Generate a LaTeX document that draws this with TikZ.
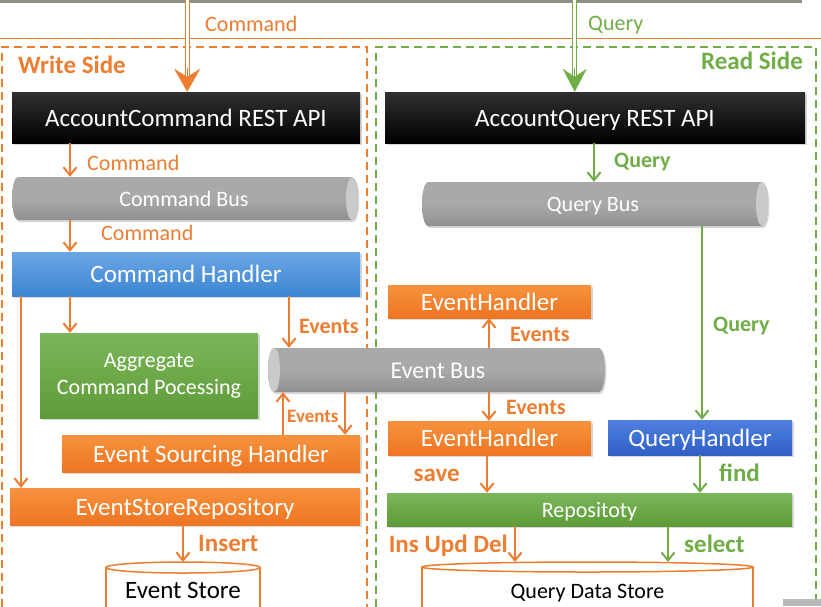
\documentclass[tikz,border=0pt]{standalone}
\usepackage{fontspec}
\setmainfont{Carlito}
\usetikzlibrary{arrows.meta,shapes.geometric,shadows}
\definecolor{ocol}{HTML}{ED7D31}
\definecolor{gcol}{HTML}{70AD47}
\definecolor{blacktop}{HTML}{303030}
\definecolor{bluetop}{HTML}{6AA6E6}
\definecolor{bluebot}{HTML}{3D85D0}
\definecolor{qbluetop}{HTML}{4E80E0}
\definecolor{qbluebot}{HTML}{2F5FC5}
\definecolor{greentop}{HTML}{7CB65A}
\definecolor{greenbot}{HTML}{5E9B38}
\definecolor{orangetop}{HTML}{F7923E}
\definecolor{orangebot}{HTML}{EE7522}
\definecolor{bustop}{HTML}{A9A9A9}
\definecolor{busbot}{HTML}{909090}
\definecolor{busend}{HTML}{CACACA}
\definecolor{topline}{HTML}{8A9088}
\tikzset{
  shad/.style={drop shadow={shadow xshift=1.5pt, shadow yshift=-2pt, opacity=0.3}},
  boxbase/.style={rectangle, inner sep=0pt, text=white, font=\fontsize{25}{30}\selectfont, shad},
  line25/.style={text height=20pt, text depth=3pt},
  line24/.style={text height=19.2pt, text depth=2.9pt},
  line22/.style={text height=17.6pt, text depth=2.6pt},
  box/.style={boxbase, line25},
  blackbox/.style={box, top color=blacktop, bottom color=black},
  bluebox/.style={box, top color=bluetop, bottom color=bluebot},
  qbluebox/.style={box, top color=qbluetop, bottom color=qbluebot},
  greenbox/.style={box, top color=greentop, bottom color=greenbot},
  orangebox/.style={box, top color=orangetop, bottom color=orangebot},
  busnode/.style={rectangle, inner sep=0pt, text=white, font=\fontsize{22}{26}\selectfont, line22},
  bussurface/.style={top color=bustop, bottom color=busbot, middle color=bustop, shad},
  olbl/.style={text=ocol, inner sep=0pt, anchor=base west, font=\fontsize{22}{26}\selectfont},
  glbl/.style={text=gcol, inner sep=0pt, anchor=base west, font=\fontsize{22}{26}\selectfont},
  olblb/.style={text=ocol, inner sep=0pt, anchor=base west, font=\bfseries\fontsize{25}{30}\selectfont},
  glblb/.style={text=gcol, inner sep=0pt, anchor=base west, font=\bfseries\fontsize{25}{30}\selectfont},
  oarr/.style={draw=ocol, line width=2pt, -{Straight Barb[length=8pt,width=13pt]}},
  garr/.style={draw=gcol, line width=2pt, -{Straight Barb[length=8pt,width=13pt]}},
  storetxt/.style={inner sep=0pt, text=black, anchor=base},
  storeline/.style={draw=ocol, line width=1.5pt, fill=white},
}
% horizontal bus body: x1 y1 x2 y2 (y grows downward)
\newcommand{\mybusbody}[4]{%
  \path[bussurface] ({#1+6},#2) -- ({#3-6},#2)
    arc[start angle=-90, end angle=90, x radius=6, y radius={(#4-#2)/2}]
    -- ({#1+6},#4)
    arc[start angle=90, end angle=270, x radius=6, y radius={(#4-#2)/2}] -- cycle;}
% cap at x-centre c, rows y1 y2
\newcommand{\mybuscap}[3]{%
  \fill[busend] (#1,{(#2+#3)/2}) ellipse [x radius=6, y radius={(#3-#2)/2}];}
\begin{document}
\begin{tikzpicture}[x=1pt,y=-1pt]
\useasboundingbox (0,0) rectangle (821,606);
\fill[white] (0,0) rectangle (821,606);

% top strip
\draw[topline, line width=3pt] (0,1.5) -- (802,1.5);
\draw[ocol, line width=1pt] (0,38) -- (821,38);

% side frames
\draw[ocol, line width=2.6pt, dash pattern=on 8pt off 5pt] (2,620) -- (2,47) -- (367,47) -- (367,620);
\draw[gcol, line width=2.3pt, dash pattern=on 8pt off 5pt] (376,620) -- (376,47) -- (816,47) -- (816,620);

% column coordinates
\coordinate (cmdsrc) at (187.2,0);
\coordinate (qrysrc) at (574.7,0);
\coordinate (c21) at (21,0);
\coordinate (c70) at (70,0);
\coordinate (c183) at (183,0);
\coordinate (c283) at (283,0);
\coordinate (c289) at (289,0);
\coordinate (c345) at (345,0);
\coordinate (c487) at (487,0);
\coordinate (c489) at (489,0);
\coordinate (c515) at (515,0);
\coordinate (c594) at (594,0);
\coordinate (c668) at (668,0);
\coordinate (c700) at (700,0);
\coordinate (c702) at (702,0);
\coordinate (estop) at (183,562);
\coordinate (qdstop) at (587,562);

% bus surfaces
\mybusbody{12}{177}{358}{220}
\mybuscap{352}{177}{220}
\mybusbody{422}{182}{768}{226}
\mybuscap{762}{182}{226}
\mybusbody{268}{348}{605}{392}
\mybuscap{274}{348}{392}

% write side nodes
\node[blackbox, minimum width=348pt, minimum height=51pt] (acr) at (186,117.5) {AccountCommand REST API};
\node[busnode, minimum width=346pt, minimum height=43pt] (cb) at (184,198.5) {Command Bus};
\node[bluebox, minimum width=348pt, minimum height=44pt] (ch) at (186,274) {Command Handler};
\node[boxbase, top color=greentop, bottom color=greenbot, minimum width=218pt, minimum height=85pt, align=center, font=\fontsize{22}{27}\selectfont] (agg) at (149,375.5) {Aggregate\\Command Pocessing};
\node[busnode, minimum width=337pt, minimum height=44pt, font=\fontsize{24}{28}\selectfont, line24] (eb) at (438,370) {Event Bus};
\node[orangebox, minimum width=298pt, minimum height=37pt] (esh) at (211,453.5) {Event Sourcing Handler};
\node[orangebox, minimum width=350pt, minimum height=37pt] (esr) at (185,506.5) {EventStoreRepository};

% read side nodes
\node[blackbox, minimum width=420pt, minimum height=51pt] (aqr) at (595,117.5) {AccountQuery REST API};
\node[busnode, minimum width=346pt, minimum height=44pt] (qb) at (593,204) {Query Bus};
\node[orangebox, minimum width=203pt, minimum height=33pt] (eh1) at (489.5,301.5) {EventHandler};
\node[orangebox, minimum width=203pt, minimum height=34pt] (eh2) at (489.5,438) {EventHandler};
\node[qbluebox, minimum width=184pt, minimum height=35pt] (qh) at (700,437.5) {QueryHandler};
\node[greenbox, minimum width=405pt, minimum height=33pt, font=\fontsize{22}{26}\selectfont, line22] (repo) at (589.5,509.5) {Repositoty};

% data stores
\draw[storeline] (106,567.5) -- (106,625) -- (260,625) -- (260,567.5);
\draw[storeline] (183,567.5) ellipse [x radius=77, y radius=5.5];
\node[storetxt, font=\fontsize{25}{30}\selectfont] (es) at (183,598) {Event Store};
\draw[storeline] (422,567) -- (422,625) -- (753,625) -- (753,567);
\draw[storeline] (587.5,567) ellipse [x radius=165.5, y radius=5];
\node[storetxt, font=\fontsize{22}{26}\selectfont] (qds) at (587.5,598) {Query Data Store};

% incoming double arrows
\draw[ocol, line width=1pt, double=white, double distance=3.3pt, shorten >=15pt] (cmdsrc) -- (cmdsrc |- acr.north);
\draw[ocol, line width=0.5pt, -{Stealth[length=23pt, width=26pt, inset=8pt]}] ([yshift=24pt]cmdsrc |- acr.north) -- (cmdsrc |- acr.north);
\draw[gcol, line width=1pt, double=white, double distance=3pt, shorten >=15pt] (qrysrc) -- (qrysrc |- aqr.north);
\draw[gcol, line width=0.5pt, -{Stealth[length=23pt, width=24pt, inset=8pt]}] ([yshift=24pt]qrysrc |- aqr.north) -- (qrysrc |- aqr.north);

% write side connectors
\draw[oarr] (c70 |- acr.south) -- (c70 |- cb.north);
\draw[oarr] (c70 |- cb.south) -- (c70 |- ch.north);
\draw[oarr] (c70 |- ch.south) -- (c70 |- agg.north);
\draw[oarr] (c21 |- ch.south) -- (c21 |- esr.north);
\draw[oarr] (c289 |- ch.south) -- (c289 |- eb.north);
\draw[oarr] (c283 |- esh.north) -- (c283 |- eb.south);
\draw[oarr] (c345 |- eb.south) -- (c345 |- esh.north);
\draw[oarr] (c183 |- esr.south) -- (c183 |- estop);

% read side connectors
\draw[garr] (c594 |- aqr.south) -- (c594 |- qb.north);
\draw[garr] (c702 |- qb.south) -- (c702 |- qh.north);
\draw[oarr] (c489 |- eb.north) -- (c489 |- eh1.south);
\draw[oarr] (c489 |- eb.south) -- (c489 |- eh2.north);
\draw[oarr] (c487 |- eh2.south) -- (c487 |- repo.north);
\draw[garr] (c700 |- qh.south) -- (c700 |- repo.north);
\draw[oarr] (c515 |- repo.south) -- (c515 |- qdstop);
\draw[garr] (c668 |- repo.south) -- (c668 |- qdstop);

% labels
\node[olbl] (lcmd0) at (205,31) {Command};
\node[glbl] (lqry0) at (588,30) {Query};
\node[olblb] (lws) at (18,73) {Write Side};
\node[glblb, anchor=base east] (lrs) at (803,69) {Read Side};
\node[olbl] (lcmd1) at (87,170) {Command};
\node[olbl] (lcmd2) at (101,240) {Command};
\node[glblb, font=\bfseries\fontsize{22}{26}\selectfont] (lq1) at (614,167) {Query};
\node[olblb, font=\bfseries\fontsize{22}{26}\selectfont] (lev1) at (299,333) {Events};
\node[olblb, font=\bfseries\fontsize{19}{22}\selectfont] (lev2) at (287,422) {Events};
\node[olblb, font=\bfseries\fontsize{22}{26}\selectfont] (lev3) at (510,341) {Events};
\node[olblb, font=\bfseries\fontsize{22}{26}\selectfont] (lev4) at (506,414) {Events};
\node[glblb, font=\bfseries\fontsize{22}{26}\selectfont] (lq2) at (713,331) {Query};
\node[olblb] (lins) at (198,551) {Insert};
\node[olblb, anchor=base east] (lsave) at (460,481) {save};
\node[glblb] (lfind) at (719,481) {find};
\node[olblb, anchor=base east] (liud) at (508,552) {Ins Upd Del};
\node[glblb] (lsel) at (684,552) {select};

% corner artifact
\fill[gray!55] (783,599) rectangle (821,606);
\end{tikzpicture}
\end{document}
